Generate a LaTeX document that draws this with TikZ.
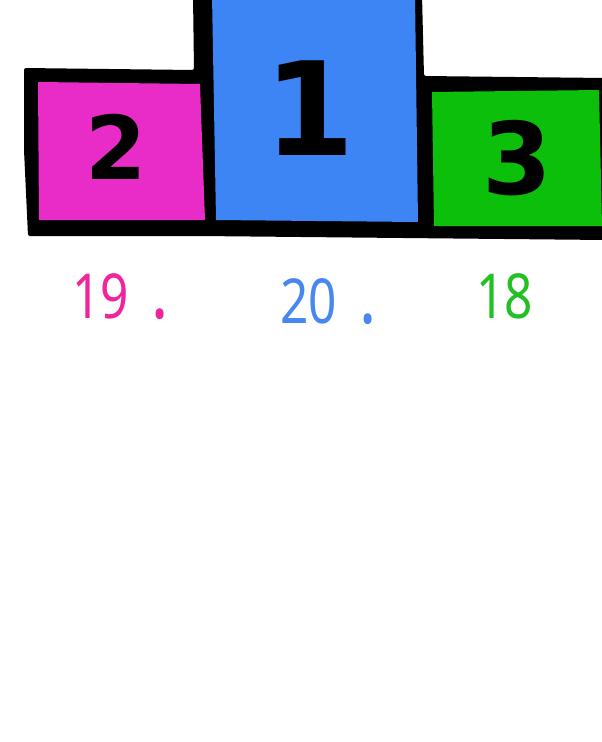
\documentclass[tikz,border=0pt]{standalone}
\usepackage{fontspec}
\setmainfont{DejaVu Sans}
\newfontfamily\labfont{Noto Sans}
\definecolor{podmag}{HTML}{E92CC8}
\definecolor{podblue}{HTML}{3D84F5}
\definecolor{podgreen}{HTML}{0BBF0B}
\definecolor{txtmag}{HTML}{F0259E}
\definecolor{txtblue}{HTML}{4886F0}
\definecolor{txtgreen}{HTML}{22C022}
\newcommand{\bigdot}{{\fontsize{80}{80}\selectfont\bfseries .}}
\tikzset{
  digit/.style={font=\fontsize{88}{88}\selectfont\bfseries, text=black, inner sep=0pt},
  score/.style={font=\labfont\fontsize{62}{62}\selectfont, inner sep=0pt, xscale=0.8}
}
\begin{document}
\begin{tikzpicture}[x=1pt,y=-1pt]
\useasboundingbox (0,0) rectangle (602,742);
\fill[white] (0,0) rectangle (602,742);
% black outline of the podium
\fill[black, rounded corners=2pt]
  (24,68) -- (194,70) -- (193,-5) -- (422,-5) -- (424,76) -- (606,78)
  -- (606,240) -- (200,236) -- (28,236) -- (24,150) -- cycle;
% coloured blocks
\fill[podmag] (38,82) -- (200,84) -- (205,220) -- (39,220) -- cycle;
\fill[podblue] (212,-5) -- (415,-5) -- (418,222) -- (216,220) -- cycle;
\fill[podgreen] (432,92) -- (599,90) -- (602,226) -- (434,226) -- cycle;
% digits
\node[digit] (d2) at (116,147) {2};
\node[digit, font=\fontsize{130}{130}\selectfont\bfseries] (d1) at (310,108) {1};
\node[digit, font=\fontsize{100}{100}\selectfont\bfseries] (d3) at (517,158) {3};
% scores
\node[score, text=txtmag, anchor=base west] (s2) at (72,318) {19\hspace{28pt}\bigdot};
\node[score, text=txtblue, anchor=base west] (s1) at (280,323) {20\hspace{28pt}\bigdot};
\node[score, text=txtgreen, anchor=base west] (s3) at (476,318) {18};
\end{tikzpicture}
\end{document}
